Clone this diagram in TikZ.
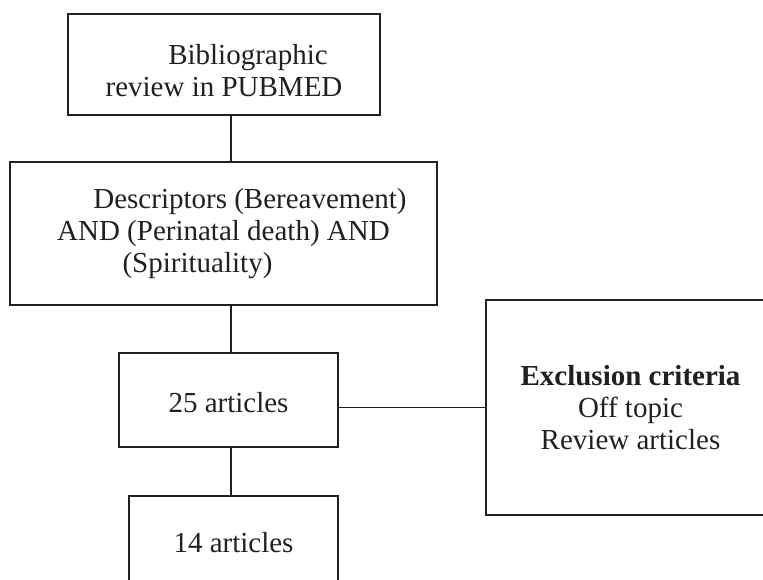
\documentclass[tikz,border=0pt]{standalone}
\usepackage{fontspec}
\setmainfont{Liberation Serif}
\usetikzlibrary{positioning,calc}
\definecolor{ink}{RGB}{35,31,32}

\begin{document}
\begin{tikzpicture}[x=1pt,y=-1pt,
    stagebox/.style={draw=ink,line width=1.6pt,align=center,inner sep=0pt,
      text=ink,font=\fontsize{29}{32}\selectfont},
    link/.style={draw=ink,line width=1.6pt}]
        \path[use as bounding box,clip] (0,0) rectangle (763,579);
        \coordinate (spine) at (231,0);
        % search steps
        \node[stagebox,minimum width=312pt,minimum height=101pt] (search) at (224,64.5)
          {\rule{0pt}{32pt}\hspace*{48pt}Bibliographic\\review in PUBMED};
        \node[stagebox,minimum width=427pt,minimum height=143pt] (terms) at (223.5,233.5)
          {\hspace*{53pt}Descriptors (Bereavement)\\AND (Perinatal death) AND\hspace*{11pt}\\(Spirituality)\hspace*{52pt}};
        \node[stagebox,minimum width=219pt,minimum height=94pt] (found) at (228.5,400) {\rule{0pt}{26pt}25 articles};
        \node[stagebox,minimum width=209pt,minimum height=94pt] (kept) at (233.5,543) {14 articles};
        \node[stagebox,minimum width=289pt,minimum height=215pt] (excl) at (630.5,407.5)
          {\textbf{Exclusion criteria}\\Off topic\\Review articles};
        % connectors
        \draw[link] (search.south -| spine) -- (terms.north -| spine);
        \draw[link] (terms.south -| spine) -- (found.north -| spine);
        \draw[link] (found.south -| spine) -- (kept.north -| spine);
        \draw[link] (excl.west) -- (excl.west -| found.east);
      \end{tikzpicture}
\end{document}
